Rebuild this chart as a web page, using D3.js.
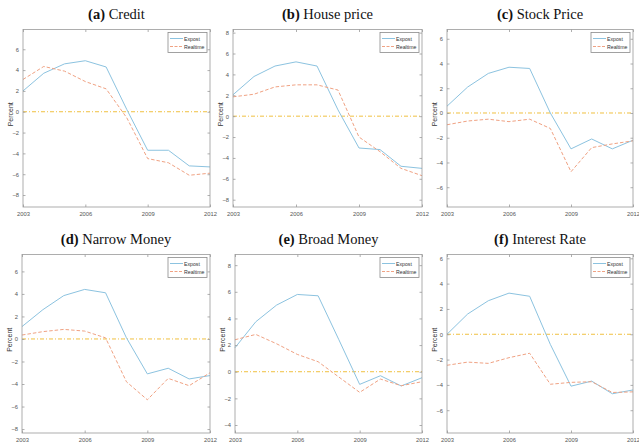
<!DOCTYPE html>
<html>
<head>
<meta charset="utf-8">
<script src="https://cdn.jsdelivr.net/npm/d3@7"></script>
<style>
  html, body { margin: 0; padding: 0; background: #fff; }
  svg { display: block; }
</style>
</head>
<body>
<svg id="fig" width="639" height="444"></svg>
<script>
// Annual observations
const years = [2003, 2004, 2005, 2006, 2007, 2008, 2009, 2010, 2011, 2012];
const xTicks = [2003, 2006, 2009, 2012];

const panelTitles = [
  ["(a)", "Credit"],
  ["(b)", "House price"],
  ["(c)", "Stock Price"],
  ["(d)", "Narrow Money"],
  ["(e)", "Broad Money"],
  ["(f)", "Interest Rate"]
];

// Ex-post and real-time estimates (percent)
const creditExpost      = [2.0, 3.7, 4.6, 4.9, 4.3, 0.2, -3.7, -3.7, -5.2, -5.3];
const creditRealtime    = [3.1, 4.35, 3.9, 2.9, 2.2, -0.6, -4.5, -4.9, -6.1, -5.9];
const houseExpost       = [2.05, 3.8, 4.8, 5.2, 4.8, 0.6, -3.05, -3.2, -4.8, -5.0];
const houseRealtime     = [1.85, 2.1, 2.8, 3.0, 3.0, 2.5, -2.0, -3.4, -5.0, -5.7];
const stockExpost       = [0.55, 2.1, 3.2, 3.7, 3.6, 0.0, -2.9, -2.1, -2.9, -2.2];
const stockRealtime     = [-0.95, -0.65, -0.5, -0.7, -0.5, -1.25, -4.75, -2.8, -2.5, -2.25];
const narrowExpost      = [1.1, 2.6, 3.85, 4.4, 4.1, 0.1, -3.1, -2.6, -3.55, -3.25];
const narrowRealtime    = [0.35, 0.65, 0.85, 0.7, 0.1, -3.8, -5.4, -3.5, -4.15, -3.0];
const broadExpost       = [1.8, 3.75, 5.0, 5.8, 5.7, 2.4, -0.95, -0.3, -1.07, -0.45];
const broadRealtime     = [2.4, 2.8, 2.1, 1.3, 0.75, -0.4, -1.55, -0.55, -1.05, -0.75];
const rateExpost        = [0.0, 1.6, 2.65, 3.25, 3.0, -0.8, -4.1, -3.7, -4.7, -4.4];
const rateRealtime      = [-2.45, -2.2, -2.3, -1.85, -1.5, -3.95, -3.8, -3.75, -4.6, -4.55];

const expostSeries   = [creditExpost, houseExpost, stockExpost, narrowExpost, broadExpost, rateExpost];
const realtimeSeries = [creditRealtime, houseRealtime, stockRealtime, narrowRealtime, broadRealtime, rateRealtime];

// Y axis limits and ticks of each panel
const yLimits = [[-9.15, 7.9], [-8.7, 8.3], [-7.6, 6.75], [-8.35, 7.5], [-4.6, 8.8], [-7.8, 6.3]];
const yTickSets = [
  [-8, -6, -4, -2, 0, 2, 4, 6],
  [-8, -6, -4, -2, 0, 2, 4, 6, 8],
  [-6, -4, -2, 0, 2, 4, 6],
  [-8, -6, -4, -2, 0, 2, 4, 6],
  [-4, -2, 0, 2, 4, 6, 8],
  [-6, -4, -2, 0, 2, 4, 6]
];
const legendLabels = ["Expost", "Realtime"];

// Plot boxes (pixel layout)
const boxes = [
  { l: 23,  r: 210, t: 29.5, b: 207 },
  { l: 233, r: 422, t: 29.5, b: 207 },
  { l: 447, r: 633, t: 29.5, b: 207 },
  { l: 22,  r: 210, t: 254.5, b: 433 },
  { l: 235, r: 422, t: 254.5, b: 433 },
  { l: 447, r: 633, t: 254.5, b: 433 }
];

const colExpost = "#8cc3e0";
const colRealtime = "#f0a283";
const colZero = "#f0c040";
const axisCol = "#9a9a9a";
const tickTextCol = "#555";
const tickFont = "Liberation Sans, Arial, sans-serif";

const svg = d3.select("#fig");

boxes.forEach((bx, i) => {
  const g = svg.append("g");
  const x = d3.scaleLinear().domain([years[0], years[years.length - 1]]).range([bx.l, bx.r]);
  const y = d3.scaleLinear().domain(yLimits[i]).range([bx.b, bx.t]);

  // Title
  const title = g.append("text")
    .attr("x", (bx.l + bx.r) / 2)
    .attr("y", bx.t - 11)
    .attr("text-anchor", "middle")
    .attr("font-family", "Liberation Serif, Times New Roman, serif")
    .attr("font-size", 14.5)
    .attr("fill", "#111");
  title.append("tspan").attr("font-weight", "bold").text(panelTitles[i][0]);
  title.append("tspan").text(" " + panelTitles[i][1]);

  // Zero reference line
  g.append("line")
    .attr("x1", bx.l).attr("x2", bx.r)
    .attr("y1", y(0)).attr("y2", y(0))
    .attr("stroke", colZero).attr("stroke-width", 1)
    .attr("stroke-dasharray", "4,2,1,2");

  const line = d3.line().x((d, k) => x(years[k])).y(d => y(d));

  g.append("path")
    .attr("d", line(expostSeries[i]))
    .attr("fill", "none").attr("stroke", colExpost).attr("stroke-width", 1);

  g.append("path")
    .attr("d", line(realtimeSeries[i]))
    .attr("fill", "none").attr("stroke", colRealtime).attr("stroke-width", 1)
    .attr("stroke-dasharray", "3.5,2");

  // Axes with inward ticks
  const tickLen = 2.5;
  const yAxisL = d3.axisLeft(y).tickValues(yTickSets[i]).tickSize(-tickLen).tickPadding(4)
    .tickFormat(d3.format("d"));
  const yAxisR = d3.axisRight(y).tickValues(yTickSets[i]).tickSize(-tickLen).tickFormat("");
  const xAxisB = d3.axisBottom(x).tickValues(xTicks).tickSize(-tickLen).tickPadding(5)
    .tickFormat(d3.format("d"));
  const xAxisT = d3.axisTop(x).tickValues(xTicks).tickSize(-tickLen).tickFormat("");

  const styleAxis = sel => {
    sel.selectAll(".domain").remove();
    sel.selectAll("line").attr("stroke", axisCol).attr("stroke-width", 0.8);
    sel.selectAll("text").attr("fill", tickTextCol).attr("font-family", tickFont).attr("font-size", 5.8);
  };

  g.append("g").attr("transform", `translate(${bx.l},0)`).call(yAxisL).call(styleAxis);
  g.append("g").attr("transform", `translate(${bx.r},0)`).call(yAxisR).call(styleAxis);
  g.append("g").attr("transform", `translate(0,${bx.b})`).call(xAxisB).call(styleAxis);
  g.append("g").attr("transform", `translate(0,${bx.t})`).call(xAxisT).call(styleAxis);

  // Frame
  g.append("rect")
    .attr("x", bx.l).attr("y", bx.t)
    .attr("width", bx.r - bx.l).attr("height", bx.b - bx.t)
    .attr("fill", "none").attr("stroke", axisCol).attr("stroke-width", 0.8);

  // Y label
  g.append("text")
    .attr("transform", `translate(${bx.l - 10.5},${(bx.t + bx.b) / 2 - 4}) rotate(-90)`)
    .attr("text-anchor", "middle")
    .attr("font-family", tickFont)
    .attr("font-size", 7)
    .attr("fill", "#333")
    .text("Percent");

  // Legend
  const lw = 39, lh = 20;
  const lx = bx.r - lw - 3, ly = bx.t + 3;
  const lg = g.append("g");
  lg.append("rect")
    .attr("x", lx).attr("y", ly).attr("width", lw).attr("height", lh)
    .attr("fill", "#fff").attr("stroke", "#8a8a8a").attr("stroke-width", 0.8);
  const cols = [colExpost, colRealtime];
  const dashes = [null, "3,1.5"];
  legendLabels.forEach((lab, k) => {
    const yy = ly + 6 + k * 8;
    lg.append("line")
      .attr("x1", lx + 2).attr("x2", lx + 15)
      .attr("y1", yy).attr("y2", yy)
      .attr("stroke", cols[k]).attr("stroke-width", 1)
      .attr("stroke-dasharray", dashes[k]);
    lg.append("text")
      .attr("x", lx + 16).attr("y", yy + 2)
      .attr("font-family", tickFont).attr("font-size", 5.2)
      .attr("fill", "#333")
      .text(lab);
  });
});
</script>
</body>
</html>
